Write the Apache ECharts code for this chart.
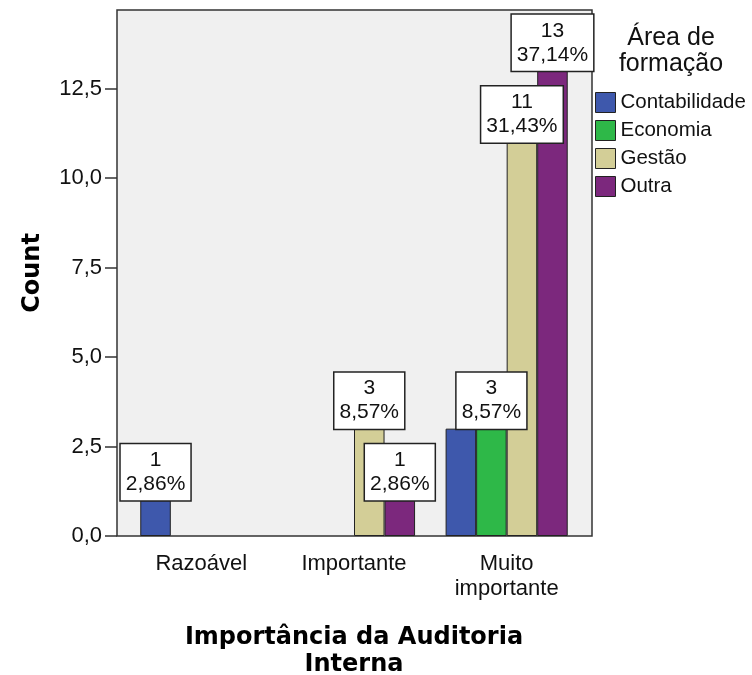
<!DOCTYPE html>
<html>
<head>
<meta charset="utf-8">
<style>html,body{margin:0;padding:0;background:#fff}#main{width:752px;height:675px}</style>
<script src="https://cdn.jsdelivr.net/npm/echarts@6/dist/echarts.min.js"></script>
</head>
<body>
<div id="main"></div>
<script>
var categories = ['Razoável', 'Importante', 'Muito\nimportante'];
var groups = ['Contabilidade', 'Economia', 'Gestão', 'Outra'];
var contabilidade = [1, 0, 3];
var economia = [0, 0, 3];
var gestao = [0, 3, 11];
var outra = [0, 1, 13];
var yTicks = [0, 2.5, 5, 7.5, 10, 12.5];
var colors = ['#3E58AC', '#2EB848', '#D3CE97', '#7C287D'];
// SPSS drops this label, it sits under the Economia one
var hiddenLabels = ['0-2'];

var values = [contabilidade, economia, gestao, outra];
var total = 0;
values.forEach(function (arr) { arr.forEach(function (v) { total += v; }); });

function comma(v, d) { return v.toFixed(d).replace('.', ','); }

var myChart = echarts.init(document.getElementById('main'));

var series = values.map(function (arr, s) {
    return {
        name: groups[s],
        type: 'bar',
        xAxisIndex: 1,
        yAxisIndex: 1,
        barGap: 0,
        barCategoryGap: '20%',
        itemStyle: { color: colors[s], borderColor: '#222', borderWidth: 1 },
        label: {
            show: true,
            position: 'top',
            distance: 0,
            fontFamily: 'Liberation Sans',
            fontSize: 21,
            lineHeight: 24,
            color: '#111',
            backgroundColor: '#fff',
            borderColor: '#222',
            borderWidth: 1.5,
            padding: [4, 5, 4, 5],
            formatter: function (p) {
                return p.value + '\n' + comma(p.value / total * 100, 2) + '%';
            }
        },
        data: arr.map(function (v, i) {
            if (!v) return null;
            if (hiddenLabels.indexOf(s + '-' + i) >= 0) return { value: v, label: { show: false } };
            return v;
        })
    };
});

var option = {
    animation: false,
    textStyle: { fontFamily: 'Liberation Sans' },
    grid: [
        { left: 117, top: 10, width: 475, height: 526, outerBoundsMode: 'none', show: true, backgroundColor: '#F0F0F0', borderColor: '#333', borderWidth: 1.5 },
        { left: 125, top: 10, width: 458, height: 526, outerBoundsMode: 'none' }
    ],
    xAxis: [
        { gridIndex: 0, type: 'value', show: false, min: 0, max: 1 },
        {
            gridIndex: 1,
            type: 'category',
            data: categories,
            axisLine: { show: false },
            axisTick: { alignWithLabel: true, length: 12, lineStyle: { color: '#333', width: 1.5 } },
            axisLabel: { fontSize: 22, lineHeight: 25, color: '#111', margin: 15 },
            name: 'Importância da Auditoria\nInterna',
            nameLocation: 'middle',
            nameGap: 88,
            nameTextStyle: { fontFamily: 'DejaVu Sans', fontWeight: 'bold', fontSize: 24, lineHeight: 27, color: '#000' }
        }
    ],
    yAxis: [
        {
            gridIndex: 0,
            type: 'value',
            min: 0,
            max: 14.7,
            interval: 2.5,
            splitLine: { show: false },
            axisLine: { show: false },
            axisTick: { show: true, length: 12, customValues: yTicks, lineStyle: { color: '#333', width: 1.5 } },
            axisLabel: {
                fontSize: 22, color: '#111', margin: 15, customValues: yTicks,
                formatter: function (v) { return comma(v, 1); }
            },
            name: 'Count',
            nameLocation: 'middle',
            nameGap: 72,
            nameTextStyle: { fontFamily: 'DejaVu Sans', fontWeight: 'bold', fontSize: 24, color: '#000' }
        },
        { gridIndex: 1, type: 'value', show: false, min: 0, max: 14.7 }
    ],
    legend: {
        orient: 'vertical',
        left: 595,
        top: 92,
        padding: 0,
        icon: 'rect',
        itemWidth: 20,
        itemHeight: 20,
        itemGap: 7,
        itemStyle: { borderColor: '#222', borderWidth: 1 },
        textStyle: { fontFamily: 'Liberation Sans', fontSize: 20.5, lineHeight: 20, color: '#111' },
        data: groups
    },
    graphic: [{
        type: 'text',
        style: {
            text: 'Área de\nformação',
            x: 671,
            y: 25,
            textAlign: 'center',
            textVerticalAlign: 'top',
            fontFamily: 'Liberation Sans',
            fontSize: 25,
            lineHeight: 26,
            fill: '#111'
        }
    }],
    series: series
};

myChart.setOption(option);
</script>
</body>
</html>
